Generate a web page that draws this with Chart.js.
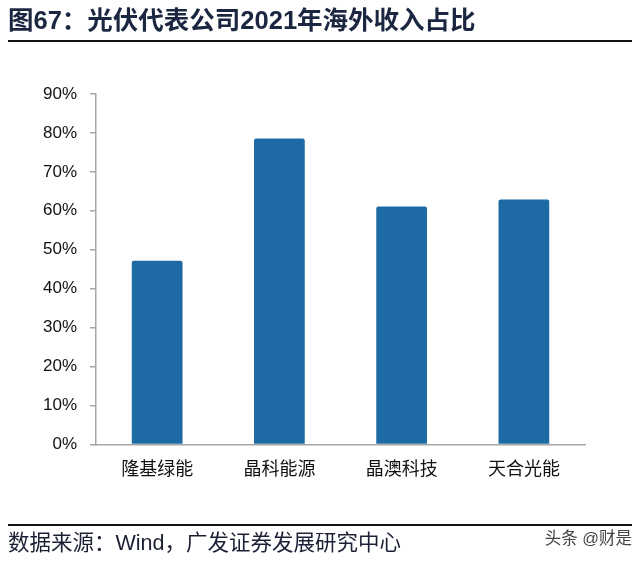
<!DOCTYPE html>
<html>
<head>
<meta charset="utf-8">
<script src="https://cdn.jsdelivr.net/npm/chart.js@4.4.0/dist/chart.umd.min.js"></script>
<style>
  body { margin: 0; background: #fff; }
  #page { position: relative; width: 640px; height: 562px; overflow: hidden; font-family: "Liberation Sans", "Noto Sans CJK SC", sans-serif; }
  #title { position: absolute; left: 8px; top: 5px; font-size: 25.5px; line-height: 30px; font-weight: bold; color: #1b2640; white-space: nowrap; }
  .rule { position: absolute; left: 8px; width: 624px; height: 2px; background: #111; }
  #source { position: absolute; left: 8px; top: 530px; font-size: 21.5px; line-height: 26px; color: #1b2035; white-space: nowrap; }
  #mark { position: absolute; right: 8px; top: 527px; font-size: 16.5px; line-height: 22px; color: #444; white-space: nowrap; }
  #wrap { position: absolute; left: 0; top: 0; width: 640px; height: 562px; }
</style>
</head>
<body>
<div id="page">
  <div id="wrap"><canvas id="chart" width="640" height="562"></canvas></div>
  <div id="title">图67：光伏代表公司2021年海外收入占比</div>
  <div class="rule" style="top:40px"></div>
  <div class="rule" style="top:524px"></div>
  <div id="source">数据来源：Wind，广发证券发展研究中心</div>
  <div id="mark">头条 @财是</div>
</div>
<script>
// Overseas revenue share, 2021 (%)
const companies = ['隆基绿能', '晶科能源', '晶澳科技', '天合光能'];
const overseasShare = [47.2, 78.6, 61.1, 62.9];
const yTicks = [0, 10, 20, 30, 40, 50, 60, 70, 80, 90];

const axisGray = '#a6a6a6';

const ctx = document.getElementById('chart').getContext('2d');
new Chart(ctx, {
    type: 'bar',
    data: {
        labels: companies,
        datasets: [{
            data: overseasShare,
            backgroundColor: '#1d6aa5',
            borderRadius: { topLeft: 2, topRight: 2 },
            borderSkipped: 'bottom',
            barPercentage: 0.415,
            categoryPercentage: 1
        }]
    },
    options: {
        responsive: false,
        animation: false,
        layout: { padding: { top: 94, left: 30, right: 55, bottom: 70 } },
        plugins: { legend: { display: false }, tooltip: { enabled: false } },
        scales: {
            x: {
                grid: { display: false, drawTicks: false },
                border: { color: axisGray, width: 1.5 },
                ticks: {
                    color: '#111',
                    padding: 13,
                    font: { family: '"Noto Sans CJK SC", sans-serif', size: 18 }
                }
            },
            y: {
                min: 0,
                max: 90,
                afterBuildTicks: axis => { axis.ticks = yTicks.map(v => ({ value: v })); },
                grid: { drawOnChartArea: false, drawTicks: true, tickLength: 6, color: axisGray, lineWidth: 1.5 },
                border: { color: axisGray, width: 1.5 },
                ticks: {
                    color: '#111',
                    padding: 13,
                    font: { family: '"Liberation Sans", Arial, sans-serif', size: 17 },
                    callback: v => v + '%'
                }
            }
        }
    }
});
</script>
</body>
</html>
